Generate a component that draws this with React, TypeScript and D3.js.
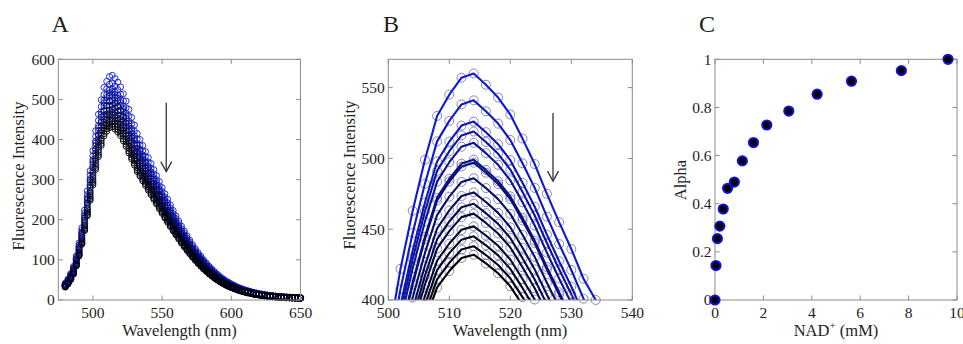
import React from "react";
import * as d3 from "d3";

// ---------- DATA ----------
// Wavelength grid (nm), sampled every 2 nm
const WAVELENGTHS: number[] = d3.range(480, 651, 2);
// Emission spectrum of the first titration step (no NAD+)
const SPECTRUM_FIRST: number[] = [
  42, 52, 66, 84, 110, 142, 180, 224, 272, 322, 372,
  422, 463, 499, 530, 545, 557, 560, 552, 543, 531, 514, 496, 475, 455, 436, 415, 400,
  385, 370, 355, 340, 325, 310, 295, 280, 265, 251, 237, 223, 210, 197, 184, 172, 160,
  149, 138, 128, 118, 109, 100, 92, 84, 77, 70, 64, 58, 53, 48, 44, 40, 36.5, 33, 30,
  27.5, 25, 23, 21, 19, 17.5, 16, 14.7, 13.5, 12.4, 11.4, 10.5, 9.7, 9, 8.4, 7.9, 7.4,
  7, 6.6, 6.3, 6, 5.7,
];
// Peak intensity of each titration step (quenching by NAD+)
const PEAKS: number[] = [560, 541, 526, 519, 511, 499, 497, 486, 476, 468, 461, 452, 445, 438, 432];
// Panel C: NAD+ concentration (mM) and fractional saturation
const NAD_MM: number[] = [0, 0.04, 0.1, 0.2, 0.34, 0.52, 0.8, 1.13, 1.59, 2.14, 3.05, 4.22, 5.64, 7.7, 9.63];
const ALPHA: number[] = [0, 0.143, 0.255, 0.307, 0.378, 0.464, 0.49, 0.578, 0.654, 0.727, 0.785, 0.855, 0.909, 0.953, 1.0];

const TICKS_A_X = [500, 550, 600, 650];
const TICKS_A_Y = [0, 100, 200, 300, 400, 500, 600];
const TICKS_B_X = [500, 510, 520, 530, 540];
const TICKS_B_Y = [400, 450, 500, 550];
const TICKS_C_X = [0, 2, 4, 6, 8, 10];
const TICKS_C_Y = [0, 0.2, 0.4, 0.6, 0.8, 1];
const TICK_LABELS_C_Y = ["0", "0.2", "0.4", "0.6", "0.8", "1"];

// ---------- derived series ----------
const series = PEAKS.map((p) =>
  WAVELENGTHS.map((w, i) => ({ w, v: (SPECTRUM_FIRST[i] * p) / PEAKS[0] }))
);
const colorOf = d3
  .scaleLinear<string>()
  .domain([0, PEAKS.length - 1])
  .range(["#0f1ad6", "#000000"])
  .interpolate(d3.interpolateRgb);

const FONT = "'Liberation Serif', 'Times New Roman', serif";
const TOP = 59.3;
const BOTTOM = 300;
const FRAME = "#8c8c8c";
const TXT = "#1e1e1e";

function Frame({ x, y, xt, yt, xl, yl }: any) {
  const [x0, x1] = x.range();
  const tl = 4.5;
  return (
    <g>
      <rect x={x0} y={TOP} width={x1 - x0} height={BOTTOM - TOP} fill="none" stroke={FRAME} strokeWidth={1} />
      {xt.map((t: number, i: number) => (
        <g key={"x" + i}>
          <line x1={x(t)} x2={x(t)} y1={BOTTOM} y2={BOTTOM - tl} stroke={FRAME} />
          <line x1={x(t)} x2={x(t)} y1={TOP} y2={TOP + tl} stroke={FRAME} />
          <text x={x(t)} y={BOTTOM + 17.5} textAnchor="middle" fontSize={15.5} fill={TXT} fontFamily={FONT}>
            {xl ? xl[i] : t}
          </text>
        </g>
      ))}
      {yt.map((t: number, i: number) => (
        <g key={"y" + i}>
          <line x1={x0} x2={x0 + tl} y1={y(t)} y2={y(t)} stroke={FRAME} />
          <line x1={x1} x2={x1 - tl} y1={y(t)} y2={y(t)} stroke={FRAME} />
          <text x={x0 - 3.5} y={y(t)} dy="0.35em" textAnchor="end" fontSize={15.5} fill={TXT} fontFamily={FONT}>
            {yl ? yl[i] : t}
          </text>
        </g>
      ))}
    </g>
  );
}

function Arrow({ x, y1, y2 }: { x: number; y1: number; y2: number }) {
  return (
    <g stroke="#333" strokeWidth={1.3} fill="none">
      <line x1={x} x2={x} y1={y1} y2={y2} />
      <polyline points={`${x - 5.5},${y2 - 10} ${x},${y2} ${x + 5.5},${y2 - 10}`} />
    </g>
  );
}

export default function App() {
  // Panel A
  const xA = d3.scaleLinear().domain([475, 650]).range([58.3, 300.5]);
  const yA = d3.scaleLinear().domain([0, 600]).range([BOTTOM, TOP]);
  // Panel B
  const xB = d3.scaleLinear().domain([500, 540]).range([388.3, 632.3]);
  const yB = d3.scaleLinear().domain([400, 570]).range([BOTTOM, TOP]);
  // Panel C
  const xC = d3.scaleLinear().domain([0, 10]).range([715, 957]);
  const yC = d3.scaleLinear().domain([0, 1]).range([BOTTOM, TOP]);

  const lineB = d3
    .line<{ w: number; v: number }>()
    .x((d) => xB(d.w))
    .y((d) => yB(d.v));

  return (
    <svg
      width={963}
      height={344}
      style={{ position: "absolute", left: 0, top: 0, display: "block", background: "#fff" }}
      fontFamily={FONT}
    >
      <defs>
        <clipPath id="clipB">
          <rect x={xB.range()[0]} y={TOP} width={xB.range()[1] - xB.range()[0]} height={BOTTOM - TOP} />
        </clipPath>
      </defs>

      {/* Titles */}
      <text x={51.5} y={32} fontSize={24} fill={TXT}>A</text>
      <text x={383} y={32} fontSize={24} fill={TXT}>B</text>
      <text x={699} y={32} fontSize={24} fill={TXT}>C</text>

      {/* ---------- Panel A ---------- */}
      <g>
        {series.map((s, k) => (
          <g key={k} fill="none" stroke={colorOf(k)} strokeWidth={0.9}>
            {s.map((d, i) => (
              <circle key={i} cx={xA(d.w)} cy={yA(d.v)} r={3} />
            ))}
          </g>
        ))}
        <Frame x={xA} y={yA} xt={TICKS_A_X} yt={TICKS_A_Y} />
        <Arrow x={xA(553)} y1={yA(492)} y2={yA(320)} />
        <text transform={`translate(24,176) rotate(-90)`} textAnchor="middle" fontSize={16.5} fill={TXT}>
          Fluorescence Intensity
        </text>
        <text x={179.5} y={335.5} textAnchor="middle" fontSize={16.5} fill={TXT}>
          Wavelength (nm)
        </text>
      </g>

      {/* ---------- Panel B ---------- */}
      <g>
        {series.map((s, k) => (
          <g key={k} fill="none" stroke="#7676b4" strokeWidth={0.9}>
            {s
              .filter((d) => d.w >= 500 && d.w <= 540 && d.v >= 399)
              .map((d, i) => (
                <circle key={i} cx={xB(d.w)} cy={yB(d.v)} r={4.5} />
              ))}
          </g>
        ))}
        <g clipPath="url(#clipB)">
          {series.map((s, k) => (
            <path
              key={k}
              d={lineB(s.filter((d) => d.w >= 496 && d.w <= 540)) || ""}
              fill="none"
              stroke={colorOf(k)}
              strokeWidth={2.1}
              strokeLinejoin="round"
            />
          ))}
        </g>
        <Frame x={xB} y={yB} xt={TICKS_B_X} yt={TICKS_B_Y} />
        <Arrow x={xB(527)} y1={yB(532)} y2={yB(484)} />
        <text transform={`translate(355,175) rotate(-90)`} textAnchor="middle" fontSize={16.5} fill={TXT}>
          Fluorescence Intensity
        </text>
        <text x={510} y={335.5} textAnchor="middle" fontSize={16.5} fill={TXT}>
          Wavelength (nm)
        </text>
      </g>

      {/* ---------- Panel C ---------- */}
      <g>
        <Frame x={xC} y={yC} xt={TICKS_C_X} yt={TICKS_C_Y} yl={TICK_LABELS_C_Y} />
        {NAD_MM.map((c, i) => (
          <circle key={i} cx={xC(c)} cy={yC(ALPHA[i])} r={4.6} fill="#000" stroke="#1010e0" strokeWidth={2} />
        ))}
        <text transform={`translate(685.5,180) rotate(-90)`} textAnchor="middle" fontSize={16.5} fill={TXT}>
          Alpha
        </text>
        <text x={836} y={335.5} textAnchor="middle" fontSize={16.5} fill={TXT}>
          NAD<tspan fontSize={11} dy={-7}>+</tspan>
          <tspan dy={7}> (mM)</tspan>
        </text>
      </g>
    </svg>
  );
}
